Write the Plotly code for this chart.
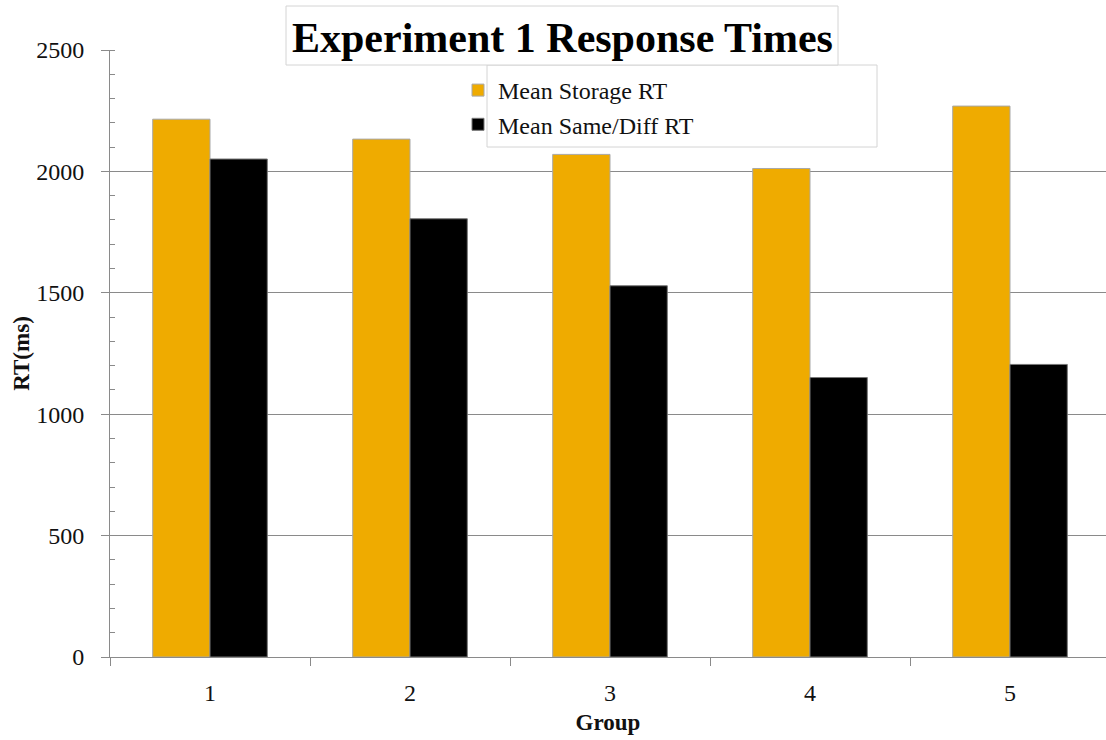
import plotly.graph_objects as go

# Experiment 1 mean response times by group
groups = ["1", "2", "3", "4", "5"]
storage_rt = [2215, 2133, 2070, 2012, 2269]
same_diff_rt = [2051, 1805, 1529, 1151, 1205]
y_ticks = [0, 500, 1000, 1500, 2000, 2500]

FONT = "Liberation Serif, Times New Roman, serif"
GRID = "#8a8a8a"


def px_x(px):
    # paper x coordinate from a pixel column (plot area spans 110..1106)
    return (px - 110) / 996


def px_y(py):
    # paper y coordinate from a pixel row (plot area spans 50..657)
    return 1 - (py - 50) / 607


fig = go.Figure()
fig.add_trace(go.Bar(
    x=list(range(len(groups))), y=storage_rt, name="Mean Storage RT",
    marker=dict(color="#EFAB00", line=dict(color="#a8a8a8", width=1)),
    legendgroup="a",
))
fig.add_trace(go.Bar(
    x=list(range(len(groups))), y=same_diff_rt, name="Mean Same/Diff RT",
    marker=dict(color="#000000", line=dict(color="#777777", width=1)),
    legendgroup="b",
))

fig.update_layout(
    width=1106, height=740,
    margin=dict(l=110, r=0, t=50, b=83),
    paper_bgcolor="white", plot_bgcolor="white",
    barmode="group", bargap=0.427, bargroupgap=0,
    font=dict(family=FONT, size=24, color="#111111"),
    showlegend=True,
    legend=dict(
        x=px_x(458), y=px_y(68),
        xanchor="left", yanchor="top",
        bgcolor="rgba(0,0,0,0)", borderwidth=0,
        font=dict(family=FONT, size=24, color="#111111"),
        tracegroupgap=5, traceorder="normal",
    ),
    xaxis=dict(
        type="linear", range=[-0.5, 4.48],
        tickmode="array", tickvals=list(range(len(groups))), ticktext=groups,
        showgrid=False, zeroline=False,
        showline=True, linecolor=GRID, linewidth=1,
        ticks="", ticklabelstandoff=14,
        minor=dict(tickmode="array", tickvals=[-0.5, 0.5, 1.5, 2.5, 3.5],
                   ticks="outside", ticklen=8, tickcolor=GRID, showgrid=False),
        title=dict(text="<b>Group</b>", font=dict(family=FONT, size=23), standoff=9),
    ),
    yaxis=dict(
        range=[0, 2500], tickmode="array", tickvals=y_ticks,
        showgrid=True, gridcolor=GRID, gridwidth=1, zeroline=False,
        showline=True, linecolor=GRID, linewidth=1,
        ticks="outside", ticklen=8, tickcolor=GRID, ticklabelstandoff=12,
        minor=dict(dtick=100, ticks="inside", ticklen=5, tickcolor=GRID, showgrid=False),
        title=dict(text="<b>RT(ms)</b>", font=dict(family=FONT, size=23), standoff=0),
    ),
)

# legend frame
fig.add_shape(type="rect", xref="paper", yref="paper",
              x0=px_x(487), x1=px_x(877), y0=px_y(147), y1=px_y(65),
              fillcolor="white", line=dict(color="#d4d4d4", width=1), layer="above")

# title frame, covering the top gridline
fig.add_shape(type="rect", xref="paper", yref="paper",
              x0=px_x(286), x1=px_x(838), y0=px_y(65), y1=px_y(6),
              fillcolor="white", line=dict(color="#d4d4d4", width=1), layer="above")

fig.add_annotation(
    text="<b>Experiment 1 Response Times</b>", xref="paper", yref="paper",
    x=px_x(562), y=px_y(38), xanchor="center", yanchor="middle",
    showarrow=False, font=dict(family=FONT, size=42, color="#000000"),
)

fig.write_html("out.html")
